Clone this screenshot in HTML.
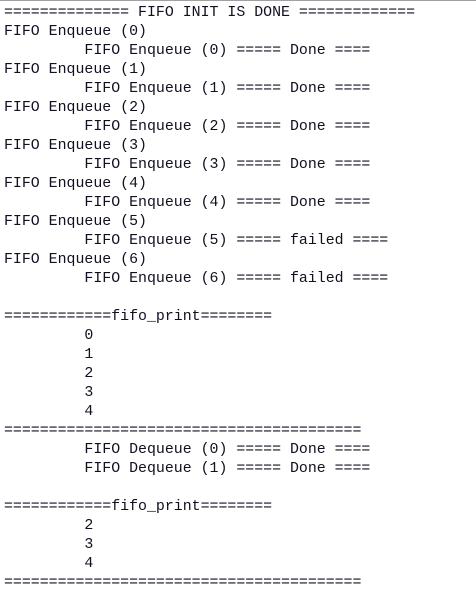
<!DOCTYPE html>
<html><head><meta charset="utf-8"><style>
html,body{margin:0;padding:0;background:#fff;width:476px;height:606px;overflow:hidden}
body{border-top:1px solid #a0a0a0;box-sizing:border-box}
pre{margin:0;padding:3px 0 0 4px;font-family:"Liberation Mono",monospace;font-size:14.9px;line-height:19px;color:#101020}
</style></head><body><pre>============== FIFO INIT IS DONE =============
FIFO Enqueue (0)
         FIFO Enqueue (0) ===== Done ====
FIFO Enqueue (1)
         FIFO Enqueue (1) ===== Done ====
FIFO Enqueue (2)
         FIFO Enqueue (2) ===== Done ====
FIFO Enqueue (3)
         FIFO Enqueue (3) ===== Done ====
FIFO Enqueue (4)
         FIFO Enqueue (4) ===== Done ====
FIFO Enqueue (5)
         FIFO Enqueue (5) ===== failed ====
FIFO Enqueue (6)
         FIFO Enqueue (6) ===== failed ====

============fifo_print========
         0
         1
         2
         3
         4
========================================
         FIFO Dequeue (0) ===== Done ====
         FIFO Dequeue (1) ===== Done ====

============fifo_print========
         2
         3
         4
========================================</pre></body></html>
